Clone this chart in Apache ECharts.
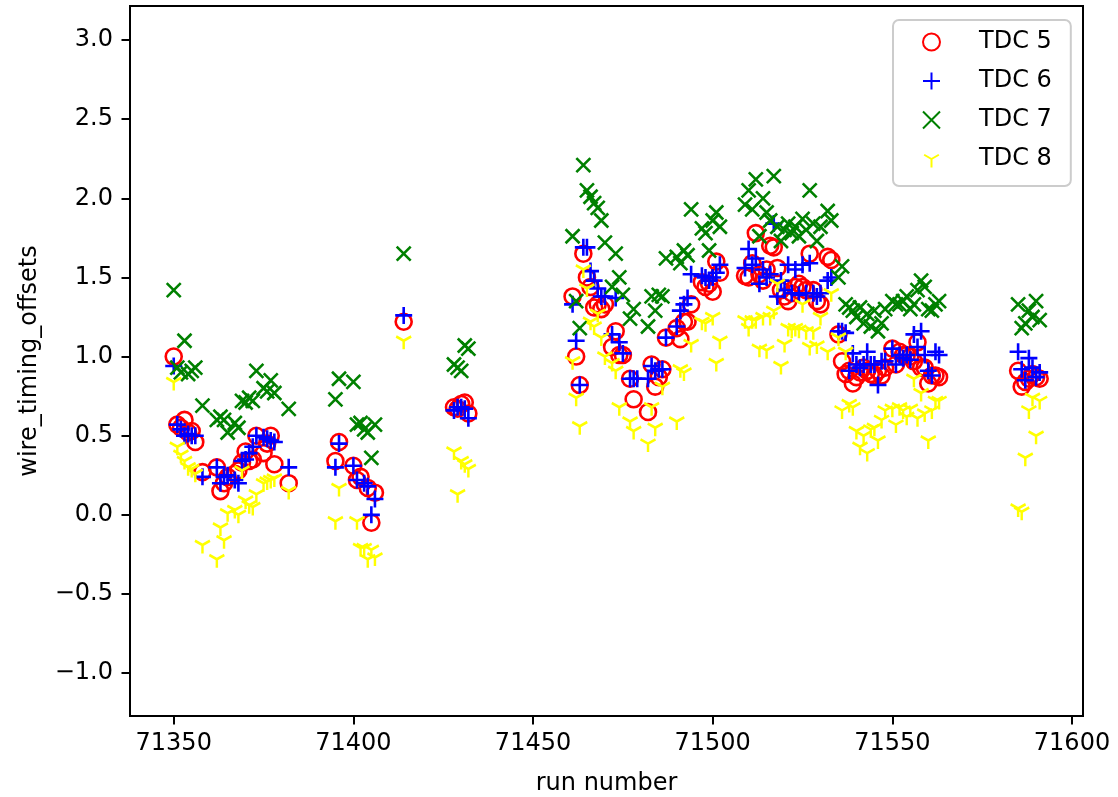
<!DOCTYPE html>
<html>
<head>
<meta charset="utf-8">
<script src="https://cdn.jsdelivr.net/npm/echarts@6/dist/echarts.min.js"></script>
<style>
html,body{margin:0;padding:0;background:#ffffff;}
#chart{width:1118px;height:797px;}
</style>
</head>
<body>
<div id="chart"></div>
<script>
// ---- data ----
const runs = [
  71350,71351,71352,71353,71354,71355,71356,71358,71362,71363,71364,71365,71367,71368,71369,71370,71371,71372,71373,71375,71376,71377,71378,71382,
  71395,71396,71400,71401,71402,71403,71404,71405,71406,
  71414,
  71428,71429,71430,71431,71432,
  71461,71462,71463,71464,71465,71466,71467,71468,71469,71470,71472,71473,71474,71475,71477,71478,71479,71482,71483,71484,71485,71486,71487,71490,71491,71492,71493,71494,71497,71498,71499,71500,71501,71502,
  71509,71510,71511,71512,71513,71514,71515,71516,71517,71518,71519,71520,71521,71522,71523,71524,71525,71526,71527,71528,71529,71530,71532,71533,71535,71536,
  71537,71538,71539,71540,71541,71542,71543,71544,71545,71546,71547,71548,71550,71551,71552,71553,71554,71555,71556,71557,71558,71559,71560,71561,71562,71563,
  71585,71586,71587,71588,71589,71590,71591
];
const tdc5 = [
  1.00,0.57,0.55,0.60,0.52,0.53,0.46,0.27,0.30,0.15,0.20,0.24,0.26,0.28,0.33,0.40,0.34,0.35,0.50,0.39,0.45,0.50,0.32,0.20,
  0.34,0.46,0.31,0.22,0.24,null,0.17,-0.05,0.14,
  1.22,
  0.68,0.67,0.70,0.71,0.64,
  1.38,1.00,0.82,1.65,1.50,1.44,1.31,1.33,1.30,1.33,1.06,1.16,1.01,1.01,0.86,0.73,null,0.65,0.95,0.81,0.87,0.92,1.12,1.18,1.11,1.22,1.22,1.33,1.47,1.44,1.46,1.41,1.60,1.53,
  1.51,1.50,1.59,1.78,1.52,1.48,1.55,1.70,1.69,1.56,1.42,1.38,1.35,1.40,1.44,1.46,1.44,1.42,1.65,1.42,1.35,1.33,1.63,1.61,1.14,0.97,
  0.89,0.91,0.83,0.87,0.90,0.93,0.91,0.89,0.88,0.91,0.88,0.93,1.05,0.95,1.03,1.01,1.01,1.00,0.97,1.09,0.93,0.93,0.83,0.88,0.88,0.87,
  0.91,0.81,0.84,0.86,0.89,0.87,0.86
];
const tdc6 = [
  0.94,0.57,0.54,0.50,0.51,0.50,0.50,0.24,0.30,0.20,0.24,0.25,0.22,0.20,0.34,0.35,0.39,0.43,0.50,0.49,0.48,0.47,0.46,0.30,
  0.30,0.45,0.31,0.22,null,0.20,0.18,0.00,0.10,
  1.26,
  0.66,0.68,0.68,0.67,0.61,
  1.33,1.10,0.82,1.69,1.69,1.54,1.48,1.43,1.38,1.38,1.14,1.37,1.09,1.02,0.86,0.86,0.86,0.86,0.94,0.91,0.92,0.92,1.12,1.19,1.29,1.33,1.37,1.52,1.51,1.50,1.48,1.50,1.53,1.58,
  1.56,1.68,1.58,1.62,1.46,1.55,1.50,1.52,1.84,1.38,1.48,1.42,1.58,1.40,1.55,1.39,1.58,1.40,1.59,1.40,1.38,1.40,1.48,1.50,1.16,1.16,
  1.15,0.91,1.02,0.95,0.93,0.95,1.03,0.95,0.95,0.82,0.97,0.97,1.05,0.95,1.01,0.99,1.01,0.98,1.14,1.06,1.16,1.01,0.91,0.88,1.03,1.01,
  1.03,0.92,0.85,0.99,0.93,0.87,0.90
];
const tdc7 = [
  1.42,0.93,0.90,1.10,0.89,0.91,0.93,0.69,0.60,0.62,0.60,0.52,0.58,0.55,0.72,0.71,0.74,0.72,0.91,0.80,0.78,0.85,0.77,0.67,
  0.73,0.86,0.84,0.57,0.58,0.54,0.52,0.36,0.57,
  1.65,
  0.95,0.93,0.91,1.07,1.05,
  1.76,1.35,1.18,2.21,2.05,2.01,1.97,1.94,1.86,1.72,1.44,1.65,1.50,1.39,1.24,1.30,null,1.19,1.38,1.29,1.39,1.38,1.62,1.63,1.59,1.67,1.64,1.93,1.81,1.78,1.67,1.86,1.91,1.82,
  1.96,2.05,1.93,2.12,1.76,2.00,1.91,1.86,2.14,1.82,1.73,1.80,1.84,1.78,1.82,1.76,1.87,1.80,2.05,1.84,1.73,1.82,1.92,1.86,1.50,1.57,
  1.33,1.31,1.29,1.25,1.31,1.21,1.27,1.19,1.29,1.16,1.21,1.30,1.35,1.33,1.33,1.35,1.38,1.30,1.33,1.42,1.48,1.44,1.30,1.29,1.33,1.35,
  1.33,1.18,1.21,1.29,1.25,1.35,1.23
];
const tdc8 = [
  0.84,0.43,0.38,0.34,0.30,0.29,0.26,-0.19,-0.28,-0.08,-0.16,0.01,0.03,0.00,0.28,0.09,0.06,0.05,0.13,0.20,0.21,0.22,0.23,0.15,
  -0.04,0.17,null,-0.04,-0.21,-0.21,-0.28,-0.22,-0.27,
  1.10,
  0.40,0.13,0.34,0.32,0.29,
  0.97,0.74,0.56,1.55,1.43,1.22,1.19,1.27,1.12,1.00,0.96,0.91,0.68,null,0.59,0.53,null,0.45,0.68,0.55,null,0.81,null,0.59,0.92,0.90,null,1.08,1.22,1.21,null,1.25,0.96,1.10,
  1.23,1.18,1.23,1.23,1.05,1.25,1.04,1.25,1.29,1.46,0.94,1.08,1.18,1.17,1.18,1.17,1.33,1.16,1.06,1.16,1.07,1.25,1.03,1.40,1.12,0.66,
  1.03,0.70,0.68,0.53,0.43,0.50,0.39,0.54,0.55,0.47,0.60,0.66,0.67,0.57,0.68,0.66,0.62,0.67,0.86,0.61,0.77,0.64,0.47,0.66,0.72,0.72,
  0.04,0.02,0.36,0.66,0.74,0.50,0.72
];
const seriesNames = ['TDC 5', 'TDC 6', 'TDC 7', 'TDC 8'];
const xTicks = [71350, 71400, 71450, 71500, 71550, 71600];
const yTicks = [-1.0, -0.5, 0.0, 0.5, 1.0, 1.5, 2.0, 2.5, 3.0];

// ---- chart ----
function pairs(vals) {
  const out = [];
  runs.forEach((r, i) => { if (vals[i] !== null) out.push([r, vals[i]]); });
  return out;
}
const FONT = "'DejaVu Sans', sans-serif";
const SYM_PLUS = 'path://M-1,0L1,0M0,-1L0,1';
const SYM_X = 'path://M-1,-1L1,1M-1,1L1,-1';
const SYM_TRI = 'path://M0,-1M0,0L0,1M0,0L-0.866,-0.5M0,0L0.866,-0.5';
const LW = 2.6;

const chart = echarts.init(document.getElementById('chart'), null, {renderer: 'canvas'});
const axisText = {fontSize: 24, fontFamily: FONT, color: '#000'};

chart.setOption({
  animation: false,
  backgroundColor: '#ffffff',
  grid: {
    left: 130, right: 35, top: 6, bottom: 81,
    show: true, borderColor: '#000', borderWidth: 2, backgroundColor: 'transparent',
    containLabel: false, outerBoundsMode: 'none'
  },
  xAxis: {
    type: 'value', min: 71337.83, max: 71603.06,
    axisLine: {show: true, onZero: false, lineStyle: {color: '#000', width: 2}},
    splitLine: {show: false},
    axisTick: {show: true, inside: false, length: 8.5, lineStyle: {color: '#000', width: 2}, customValues: xTicks},
    axisLabel: Object.assign({customValues: xTicks, margin: 16, formatter: v => String(v)}, axisText),
    name: 'run number', nameLocation: 'middle', nameGap: 56,
    nameTextStyle: axisText
  },
  yAxis: {
    type: 'value', min: -1.271, max: 3.215,
    axisLine: {show: true, onZero: false, lineStyle: {color: '#000', width: 2}},
    splitLine: {show: false},
    axisTick: {show: true, inside: false, length: 8.5, lineStyle: {color: '#000', width: 2}, customValues: yTicks},
    axisLabel: Object.assign({customValues: yTicks, margin: 17,
      formatter: v => (v < 0 ? '\u2212' : '') + Math.abs(v).toFixed(1)}, axisText),
    name: 'wire_timing_offsets', nameLocation: 'middle', nameRotate: 90, nameGap: 88,
    nameTextStyle: axisText
  },
  legend: {
    data: seriesNames,
    orient: 'vertical',
    left: 893, top: 20,
    padding: [10, 19, 15, 29],
    itemWidth: 17, itemHeight: 17, itemGap: 15,
    backgroundColor: '#ffffff',
    borderColor: '#cccccc', borderWidth: 2, borderRadius: 6,
    textStyle: {fontSize: 24, fontFamily: FONT, color: '#000', lineHeight: 24, padding: [0, 0, 0, 34]},
    selectedMode: false
  },
  series: [
    {name: seriesNames[0], type: 'scatter', data: pairs(tdc5), symbol: 'circle', symbolSize: 16,
     itemStyle: {color: 'transparent', borderColor: '#ff0000', borderWidth: LW, opacity: 1}},
    {name: seriesNames[1], type: 'scatter', data: pairs(tdc6), symbol: SYM_PLUS, symbolSize: 17,
     itemStyle: {color: 'transparent', borderColor: '#0000ff', borderWidth: LW, opacity: 1}},
    {name: seriesNames[2], type: 'scatter', data: pairs(tdc7), symbol: SYM_X, symbolSize: 14,
     itemStyle: {color: 'transparent', borderColor: '#008000', borderWidth: LW, opacity: 1}},
    {name: seriesNames[3], type: 'scatter', data: pairs(tdc8), symbol: SYM_TRI, symbolSize: [15, 17],
     itemStyle: {color: 'transparent', borderColor: '#ffff00', borderWidth: LW, opacity: 1}}
  ]
});
</script>
</body>
</html>
